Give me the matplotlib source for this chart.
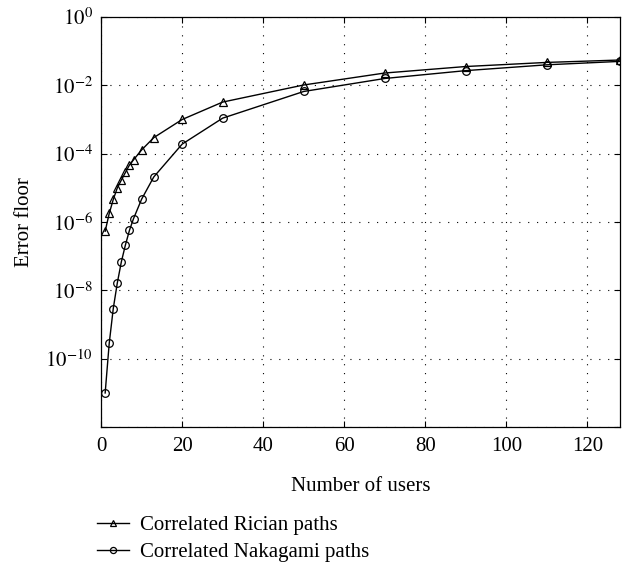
import math
import matplotlib
matplotlib.use("Agg")
import matplotlib.pyplot as plt
from matplotlib.ticker import FixedLocator, FuncFormatter

users = [1, 2, 3, 4, 5, 6, 7, 8, 10, 13, 20, 30, 50, 70, 90, 110, 128]
log_rician = [-6.27, -5.75, -5.34, -5.0, -4.77, -4.55, -4.33, -4.18, -3.89, -3.53,
              -3.0, -2.49, -1.99, -1.64, -1.45, -1.33, -1.26]
log_nakagami = [-11.0, -9.55, -8.53, -7.78, -7.16, -6.67, -6.24, -5.90, -5.33, -4.68,
                -3.72, -2.96, -2.18, -1.80, -1.57, -1.40, -1.30]
rician = [10 ** v for v in log_rician]
nakagami = [10 ** v for v in log_nakagami]
xticks = [0, 20, 40, 60, 80, 100, 120]
yticks_exp = [0, -2, -4, -6, -8, -10, -12]
labels = ["Correlated Rician paths", "Correlated Nakagami paths"]

plt.rcParams['font.family'] = ['Liberation Serif', 'DejaVu Serif']
plt.rcParams['mathtext.fontset'] = 'stix'

fig = plt.figure(figsize=(6.28, 5.65), dpi=100)
ax = fig.add_axes([0.161, 0.244, 0.826, 0.726])

ax.semilogy(users, rician, color='black', lw=1.0, marker='^', ms=6,
            mfc='none', mec='black', mew=0.9, label=labels[0])
ax.semilogy(users, nakagami, color='black', lw=1.0, marker='o', ms=5.5,
            mfc='none', mec='black', mew=0.9, label=labels[1])

ax.set_xlim(0, 128)
ax.set_ylim(1e-12, 1)
ax.set_xticks(xticks)
ax.yaxis.set_major_locator(FixedLocator([10.0 ** e for e in yticks_exp]))
ax.yaxis.set_minor_locator(FixedLocator([]))


def fmt(v, pos):
    e = int(round(math.log10(v)))
    if e == -12:
        return ""
    return r"$10^{%d}$" % e


ax.yaxis.set_major_formatter(FuncFormatter(fmt))
ax.tick_params(direction='in', top=True, right=True, length=4, width=0.8,
               labelsize=15, pad=6)
ax.tick_params(axis='x', pad=7)
ax.grid(True, which='major', color='black', linestyle=(0, (1, 7)), linewidth=0.8)
for s in ax.spines.values():
    s.set_linewidth(0.9)

ax.set_xlabel("Number of users", fontsize=15, labelpad=15)
ax.set_ylabel("Error floor", fontsize=15, labelpad=8)

handles, labs = ax.get_legend_handles_labels()
fig.legend(handles, labs, loc='upper left', bbox_to_anchor=(0.155, 0.087),
           bbox_transform=fig.transFigure, frameon=False, fontsize=15,
           handlelength=1.5, handletextpad=0.55, labelspacing=0.35, borderaxespad=0,
           borderpad=0, markerscale=0.8)
fig.savefig("out.png", dpi=100)
